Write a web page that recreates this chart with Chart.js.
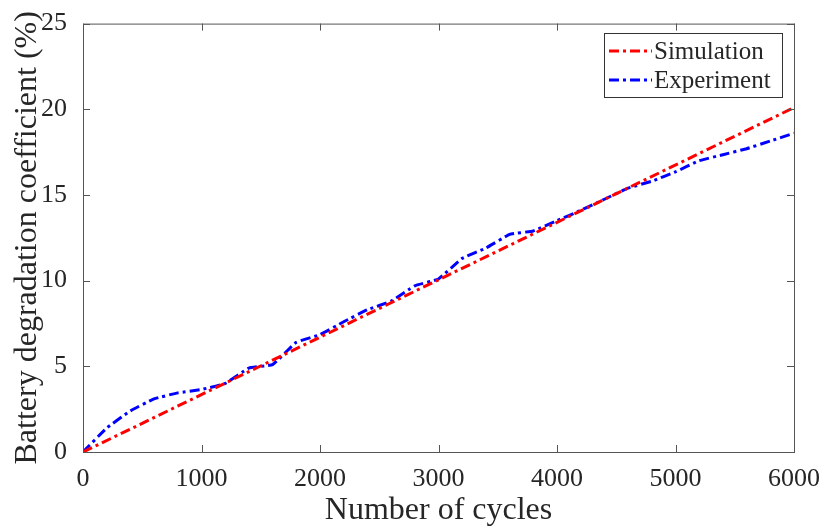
<!DOCTYPE html>
<html lang="en">
<head>
  <meta charset="UTF-8" />
  <title>Battery degradation</title>
  <script src="https://cdn.jsdelivr.net/npm/chart.js"></script>
  <style>
    html, body { margin: 0; padding: 0; background: #fff; }
    #wrap { width: 824px; height: 532px; }
  </style>
</head>
<body>
  <div id="wrap"><canvas id="chart" width="824" height="532"></canvas></div>
  <script>
    // data
    const expCycles = [0, 200, 400, 600, 800, 1000, 1200, 1400, 1600, 1800, 2000, 2200, 2400, 2600, 2800, 3000,
                       3200, 3400, 3600, 3800, 4000, 4200, 4400, 4600, 4800, 5000, 5200, 5400, 5600, 5800, 6000];
    const expValues = [0, 1.4, 2.4, 3.1, 3.45, 3.65, 4.0, 4.9, 5.1, 6.4, 6.85, 7.6, 8.3, 8.8, 9.7, 10.1,
                       11.3, 11.9, 12.7, 12.9, 13.5, 14.1, 14.75, 15.4, 15.8, 16.35, 17.0, 17.35, 17.7, 18.15, 18.6];
    const simCycles = [0, 6000];
    const simValues = [0, 20.1];
    const xTicks = [0, 1000, 2000, 3000, 4000, 5000, 6000];
    const yTicks = [0, 5, 10, 15, 20, 25];

    const serif = "'Liberation Serif', 'Times New Roman', serif";
    const textColor = '#262626';
    const axisColor = '#555';

    // box, inner ticks on all sides, legend with frame (matlab look)
    const boxPlugin = {
      id: 'boxPlugin',
      afterDraw(chart) {
        const { ctx, chartArea: a, scales } = chart;
        ctx.save();
        ctx.strokeStyle = axisColor;
        ctx.lineWidth = 1;
        ctx.setLineDash([]);
        ctx.strokeRect(a.left + 0.5, a.top + 0.5, a.right - a.left, a.bottom - a.top);
        const len = 7;
        ctx.beginPath();
        xTicks.forEach(v => {
          const x = Math.round(scales.x.getPixelForValue(v)) + 0.5;
          ctx.moveTo(x, a.bottom); ctx.lineTo(x, a.bottom - len);
          ctx.moveTo(x, a.top); ctx.lineTo(x, a.top + len);
        });
        yTicks.forEach(v => {
          const y = Math.round(scales.y.getPixelForValue(v)) + 0.5;
          ctx.moveTo(a.left, y); ctx.lineTo(a.left + len, y);
          ctx.moveTo(a.right, y); ctx.lineTo(a.right - len, y);
        });
        ctx.stroke();

        // legend
        const lx = 604, ly = 33, lw = 178, lh = 64;
        ctx.fillStyle = '#fff';
        ctx.fillRect(lx, ly, lw, lh);
        ctx.strokeStyle = '#333';
        ctx.strokeRect(lx + 0.5, ly + 0.5, lw, lh);
        ctx.font = '25px ' + serif;
        ctx.textBaseline = 'middle';
        chart.data.datasets.forEach((ds, i) => {
          const y = ly + 18 + i * 29;
          ctx.strokeStyle = ds.borderColor;
          ctx.lineWidth = ds.borderWidth;
          ctx.setLineDash(ds.borderDash);
          ctx.beginPath();
          ctx.moveTo(lx + 5, y); ctx.lineTo(lx + 48, y);
          ctx.stroke();
          ctx.setLineDash([]);
          ctx.fillStyle = textColor;
          ctx.fillText(ds.label, lx + 50, y + 1);
        });
        ctx.restore();
      }
    };

    new Chart(document.getElementById('chart'), {
      type: 'line',
      data: {
        datasets: [
          {
            label: 'Simulation',
            data: simCycles.map((c, i) => ({ x: c, y: simValues[i] })),
            borderColor: '#ff0000',
            borderWidth: 3,
            borderDash: [10, 4, 3, 4],
            pointRadius: 0,
            fill: false
          },
          {
            label: 'Experiment',
            data: expCycles.map((c, i) => ({ x: c, y: expValues[i] })),
            borderColor: '#0000ff',
            borderWidth: 3,
            borderDash: [10, 4, 3, 4],
            pointRadius: 0,
            tension: 0.1,
            fill: false
          }
        ]
      },
      options: {
        responsive: false,
        animation: false,
        layout: { padding: { top: 19, right: 30, left: 0, bottom: 0 } },
        plugins: { legend: { display: false }, tooltip: { enabled: false } },
        scales: {
          x: {
            type: 'linear',
            min: 0, max: 6000,
            grid: { display: false },
            border: { display: false },
            afterBuildTicks: s => { s.ticks = xTicks.map(v => ({ value: v })); },
            afterFit: s => { s.height = 80; },
            ticks: { color: textColor, font: { family: serif, size: 26 }, padding: 4, maxRotation: 0,
                     callback: v => String(v) },
            title: { display: true, text: 'Number of cycles', color: textColor,
                     font: { family: serif, size: 32 }, padding: { top: 0, bottom: 2 } }
          },
          y: {
            min: 0, max: 25,
            grid: { display: false },
            border: { display: false },
            afterBuildTicks: s => { s.ticks = yTicks.map(v => ({ value: v })); },
            afterFit: s => { s.width = 83; },
            ticks: { color: textColor, font: { family: serif, size: 26 }, padding: 8,
                     callback: v => String(v) },
            title: { display: true, text: 'Battery degradation coefficient (%)', color: textColor,
                     font: { family: serif, size: 32 }, padding: { top: 8, bottom: 0 } }
          }
        }
      },
      plugins: [boxPlugin]
    });
  </script>
</body>
</html>
